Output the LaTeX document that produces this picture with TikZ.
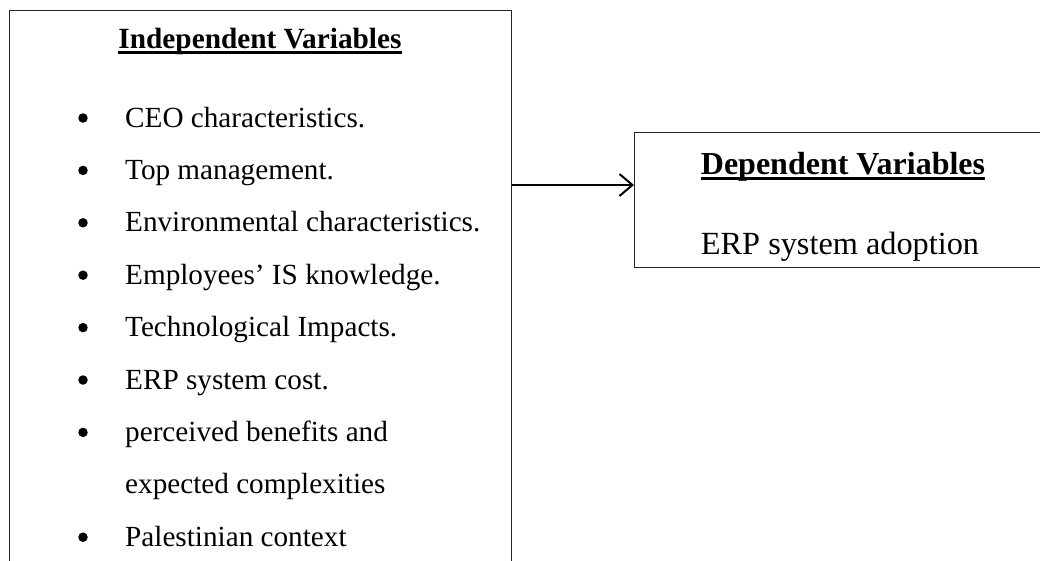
\documentclass[tikz,border=0pt]{standalone}
\usepackage{fontspec}
\setmainfont{Liberation Serif}
\usetikzlibrary{arrows.meta}
\begin{document}
\begin{tikzpicture}[x=1pt,y=-1pt,
  box/.style={draw=black!85, line width=1.3pt, inner sep=0pt, anchor=north west},
  item/.style={anchor=base west, inner sep=0pt, font=\fontsize{29.2}{35}\selectfont},
  bul/.style={circle, fill=black, inner sep=0pt, minimum size=9.5pt},
  ltitle/.style={anchor=base, inner sep=0pt, font=\fontsize{29.3}{35}\selectfont\bfseries},
  rtitle/.style={anchor=base, inner sep=0pt, font=\fontsize{32}{38}\selectfont\bfseries},
  rtext/.style={anchor=base, inner sep=0pt, font=\fontsize{32.3}{38}\selectfont},
  uline/.style={line width=2.5pt},
  link/.style={line width=2pt, -{Straight Barb[length=13pt,width=22pt,line width=2pt]}}
]
\useasboundingbox (0,0) rectangle (1040,560);
\clip (0,0) rectangle (1040,560);

% boxes
\node[box, minimum width=502pt, minimum height=600pt] (L) at (9,9.5) {};
\node[box, minimum width=430pt, minimum height=135pt] (R) at (634,132) {};

% titles
\node[ltitle] (lt) at (260,48) {Independent Variables};
\draw[uline] ([yshift=-4.5pt]lt.base west) -- ([yshift=-4.5pt]lt.base east);
\node[rtitle] (rt) at (843,174) {Dependent Variables};
\draw[uline] ([yshift=-4.5pt]rt.base west) -- ([yshift=-4.5pt]rt.base east);
\node[rtext] (rx) at (840,254) {ERP system adoption};

% items
\node[item] (i0) at (125,127)   {CEO characteristics.};
\node[item] (i1) at (125,179.4) {Top management.};
\node[item] (i2) at (125,231.8) {Environmental characteristics.};
\node[item] (i3) at (125,284.2) {Employees’ IS knowledge.};
\node[item] (i4) at (125,336.6) {Technological Impacts.};
\node[item] (i5) at (125,389)   {ERP system cost.};
\node[item] (i6) at (125,441.4) {perceived benefits and};
\node[item] (i7) at (125,493.8) {expected complexities};
\node[item] (i8) at (125,546.2) {Palestinian context};

% bullets
\node[bul] (b0) at (83,118)   {};
\node[bul] (b1) at (83,170.4) {};
\node[bul] (b2) at (83,222.8) {};
\node[bul] (b3) at (83,275.2) {};
\node[bul] (b4) at (83,327.6) {};
\node[bul] (b5) at (83,380)   {};
\node[bul] (b6) at (83,432.4) {};
\node[bul] (b8) at (83,537.2) {};

% connector
\coordinate (ay) at (0,185);
\draw[link] (L.east |- ay) -- (R.west |- ay);
\end{tikzpicture}
\end{document}
